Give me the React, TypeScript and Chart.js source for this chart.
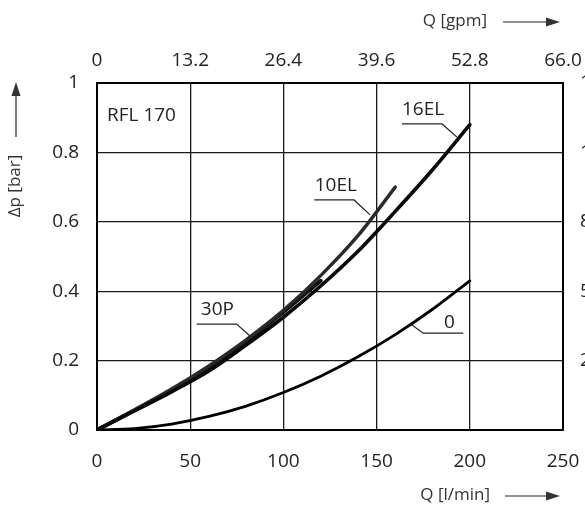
import React, { useEffect, useRef } from "react";
import { Chart, registerables } from "chart.js";

Chart.register(...registerables);

// Flow Q [l/min]
const flowLpm = [0, 20, 40, 60, 80, 100, 120, 140, 160, 180, 200];
// Δp [bar] per element
const dp0 = [0, 0.004, 0.017, 0.039, 0.069, 0.108, 0.155, 0.211, 0.275, 0.348, 0.43];
const dp16EL = [0, 0.055, 0.11, 0.17, 0.245, 0.325, 0.415, 0.515, 0.63, 0.75, 0.88];
const dp10EL = [0, 0.058, 0.118, 0.185, 0.26, 0.345, 0.445, 0.56, 0.7];
const dp30P = [0, 0.056, 0.114, 0.18, 0.255, 0.34, 0.43];

const xTicksLpm = [0, 50, 100, 150, 200, 250];
const gpmPerLpm = 0.264;
const psiPerBar = 14.5;

const seriesNames = ["0", "16EL", "10EL", "30P"];

const FONT = "'Open Sans', 'Noto Sans', sans-serif";

// annotation anchors in data units: label text position + leader polyline
const callouts = [
  { text: "16EL", at: [174.9, 0.922], leader: [[163.6, 0.882], [185.1, 0.882], [193.1, 0.844]] },
  { text: "10EL", at: [128.1, 0.704], leader: [[116.6, 0.663], [137.9, 0.663], [146.5, 0.62]] },
  { text: "30P", at: [64.6, 0.348], leader: [[53.5, 0.305], [74.9, 0.305], [82.1, 0.271]] },
  { text: "0", at: [189.1, 0.309], leader: [[168.8, 0.303], [175.0, 0.279], [196.5, 0.279]] },
];

function pts(ys: number[]) {
  return ys.map((y, i) => ({ x: flowLpm[i], y }));
}

const decorPlugin = {
  id: "decor",
  afterDraw(chart: any) {
    const { ctx, chartArea: ca, scales } = chart;
    const xs = scales.x;
    const ys = scales.y;
    ctx.save();
    // callouts
    ctx.strokeStyle = "#222";
    ctx.lineWidth = 1.2;
    ctx.fillStyle = "#222";
    ctx.font = `19px ${FONT}`;
    ctx.textAlign = "center";
    ctx.textBaseline = "middle";
    for (const c of callouts) {
      ctx.beginPath();
      c.leader.forEach((p, i) => {
        const px = xs.getPixelForValue(p[0]);
        const py = ys.getPixelForValue(p[1]);
        if (i === 0) ctx.moveTo(px, py);
        else ctx.lineTo(px, py);
      });
      ctx.stroke();
      ctx.fillText(c.text, xs.getPixelForValue(c.at[0]), ys.getPixelForValue(c.at[1]));
    }
    // RFL 170
    ctx.textAlign = "left";
    ctx.fillText("RFL 170", ca.left + 10, ca.top + 33);

    // axis titles with arrows
    const arrowRight = (x0: number, x1: number, y: number) => {
      ctx.beginPath();
      ctx.moveTo(x0, y);
      ctx.lineTo(x1 - 10, y);
      ctx.lineWidth = 1.2;
      ctx.stroke();
      ctx.beginPath();
      ctx.moveTo(x1, y);
      ctx.lineTo(x1 - 14, y - 4.5);
      ctx.lineTo(x1 - 14, y + 4.5);
      ctx.closePath();
      ctx.fill();
    };
    ctx.fillStyle = "#333";
    ctx.strokeStyle = "#222";
    ctx.font = `17px ${FONT}`;
    ctx.textAlign = "right";
    ctx.fillText("Q [gpm]", ca.right - 76, 21);
    arrowRight(ca.right - 60, ca.right - 3, 22);
    ctx.fillText("Q [l/min]", ca.right - 73, 495);
    arrowRight(ca.right - 58, ca.right - 3, 496);

    // left vertical
    const lx = 16;
    ctx.beginPath();
    ctx.moveTo(lx, 137);
    ctx.lineTo(lx, 92);
    ctx.stroke();
    ctx.beginPath();
    ctx.moveTo(lx, 82);
    ctx.lineTo(lx - 4.5, 96);
    ctx.lineTo(lx + 4.5, 96);
    ctx.closePath();
    ctx.fill();
    ctx.save();
    ctx.translate(lx - 1, 186);
    ctx.rotate(-Math.PI / 2);
    ctx.textAlign = "center";
    ctx.fillText("\u0394p [bar]", 0, 0);
    ctx.restore();
    ctx.restore();
  },
};

export default function App() {
  const ref = useRef<HTMLCanvasElement | null>(null);
  useEffect(() => {
    if (!ref.current) return;
    const tickFont = { family: FONT, size: 19 };
    const grid = { color: "#1a1a1a", lineWidth: 1.3, drawTicks: false };
    const border = { display: true, color: "#000", width: 2 };
    const chart = new Chart(ref.current, {
      type: "line",
      data: {
        datasets: [
          { label: seriesNames[0], data: pts(dp0), borderColor: "#000", borderWidth: 2.8 },
          { label: seriesNames[1], data: pts(dp16EL), borderColor: "#0a0a0a", borderWidth: 3.6 },
          { label: seriesNames[2], data: pts(dp10EL), borderColor: "#2a2a2a", borderWidth: 3.4 },
          { label: seriesNames[3], data: pts(dp30P), borderColor: "#111", borderWidth: 4 },
        ].map((d) => ({
          ...d,
          pointRadius: 0,
          fill: false,
          cubicInterpolationMode: "monotone" as const,
          borderCapStyle: "round" as const,
        })),
      },
      options: {
        responsive: false,
        animation: false,
        layout: { padding: 0 },
        plugins: { legend: { display: false }, tooltip: { enabled: false } },
        scales: {
          x: {
            type: "linear",
            position: "bottom",
            min: 0,
            max: 250,
            afterBuildTicks: (s: any) => {
              s.ticks = xTicksLpm.map((v) => ({ value: v }));
            },
            ticks: { font: tickFont, color: "#222", padding: 20, maxRotation: 0 },
            grid,
            border,
            afterFit: (s: any) => {
              s.height = 80;
            },
          },
          x2: {
            type: "linear",
            position: "top",
            min: 0,
            max: 250,
            afterBuildTicks: (s: any) => {
              s.ticks = xTicksLpm.map((v) => ({ value: v }));
            },
            ticks: {
              font: tickFont,
              color: "#222",
              padding: 11,
              maxRotation: 0,
              callback: (v: any) => (v === 0 ? "0" : (Number(v) * gpmPerLpm).toFixed(1)),
            },
            grid: { display: false, drawTicks: false },
            border,
            afterFit: (s: any) => {
              s.height = 83;
            },
          },
          y: {
            type: "linear",
            position: "left",
            min: 0,
            max: 1,
            ticks: {
              font: tickFont,
              color: "#222",
              padding: 18,
              stepSize: 0.2,
              callback: (v: any) => String(parseFloat(Number(v).toFixed(1))),
            },
            grid,
            border,
            afterFit: (s: any) => {
              s.width = 97;
            },
          },
          y2: {
            type: "linear",
            position: "right",
            min: 0,
            max: 1,
            ticks: {
              font: tickFont,
              color: "#222",
              padding: 17,
              stepSize: 0.2,
              callback: (v: any) => (Number(v) === 0 ? "" : (Number(v) * psiPerBar).toFixed(1)),
            },
            grid: { display: false, drawTicks: false },
            border,
            afterFit: (s: any) => {
              s.width = 87;
            },
          },
        },
      },
      plugins: [decorPlugin],
    } as any);
    return () => chart.destroy();
  }, []);
  return (
    <div
      style={{
        position: "fixed",
        left: 0,
        top: 0,
        width: 585,
        height: 510,
        overflow: "hidden",
        background: "#fff",
      }}
    >
      <canvas ref={ref} width={650} height={510} style={{ display: "block", width: 650, height: 510 }} />
    </div>
  );
}
